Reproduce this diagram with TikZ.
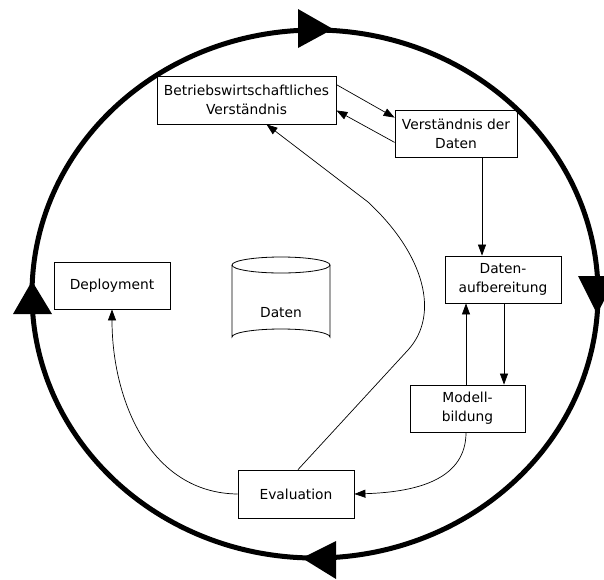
\documentclass[tikz,border=0pt]{standalone}
\usepackage{fontspec}
\setmainfont{DejaVu Sans}
\usetikzlibrary{arrows.meta}
\begin{document}
\begin{tikzpicture}[x=1pt,y=-1pt,
  phase/.style={draw, line width=0.8pt, align=center, inner sep=0pt,
    minimum height=47pt, font=\fontsize{13.8}{19}\selectfont},
  label/.style={font=\fontsize{13.8}{19}\selectfont},
  flow/.style={line width=0.7pt, -{Triangle[length=11pt,width=8pt]}},
  ring/.style={line width=5pt},
  cycletip/.style={fill=black}]
\useasboundingbox (0,0) rectangle (604,579);

% outer process cycle
\draw[ring] (315,294) ellipse [x radius=283, y radius=264];
\fill[cycletip] (298,9) -- (333,29) -- (298,48) -- cycle;
\fill[cycletip] (578,276) -- (597,314) -- (617,276) -- cycle;
\fill[cycletip] (336,541) -- (302,558) -- (336,579) -- cycle;
\fill[cycletip] (13,314) -- (32,281) -- (52,314) -- cycle;

% phases
\node[phase, minimum width=179pt, minimum height=48pt] (bv) at (246.5,100) {Betriebswirtschaftliches\\Verständnis};
\node[phase, minimum width=122pt] (vd) at (456,133.5) {Verständnis der\\Daten};
\node[phase, minimum width=116pt] (da) at (503,279.5) {Daten-\\aufbereitung};
\node[phase, minimum width=115pt] (mb) at (467.5,408.5) {Modell-\\bildung};
\node[phase, minimum width=116pt, minimum height=48pt] (ev) at (296,494) {Evaluation};
\node[phase, minimum width=116pt] (dp) at (112,285.5) {Deployment};

% data store
\draw[line width=0.8pt] (281,265) ellipse [x radius=49, y radius=8];
\draw[line width=0.8pt] (232,265) -- (232,337)
  arc[start angle=180, end angle=360, x radius=49, y radius=8] -- (330,265);
\node[label] (db) at (281,313) {Daten};

% transitions
\draw[flow] ([yshift=-9pt]bv.north east) -- ([yshift=-8pt]vd.north west);
\draw[flow] ([yshift=15pt]vd.south west) -- ([yshift=14pt]bv.south east);
\draw[flow] ([xshift=26pt]vd.south) -- ([xshift=26pt]vd.south |- da.north);
\draw[flow] ([xshift=1pt]da.south) -- ([xshift=1pt]da.south |- mb.north);
\draw[flow] ([xshift=-1.5pt]mb.north) -- ([xshift=-1.5pt]mb.north |- da.south);
\draw[flow] ([xshift=-1.5pt]mb.south) .. controls (466,478) and (420,492) .. (ev.east);
\draw[flow] (ev.west) .. controls (150,493) and (112,400) .. (dp.south);

\coordinate (bendlow) at (408,350);
\coordinate (bendhigh) at (368,202);
\draw[flow] ([xshift=2pt]ev.north) -- (bendlow)
  .. controls (440,315) and (425,255) .. (bendhigh)
  -- ([xshift=20pt]bv.south);
\end{tikzpicture}
\end{document}
